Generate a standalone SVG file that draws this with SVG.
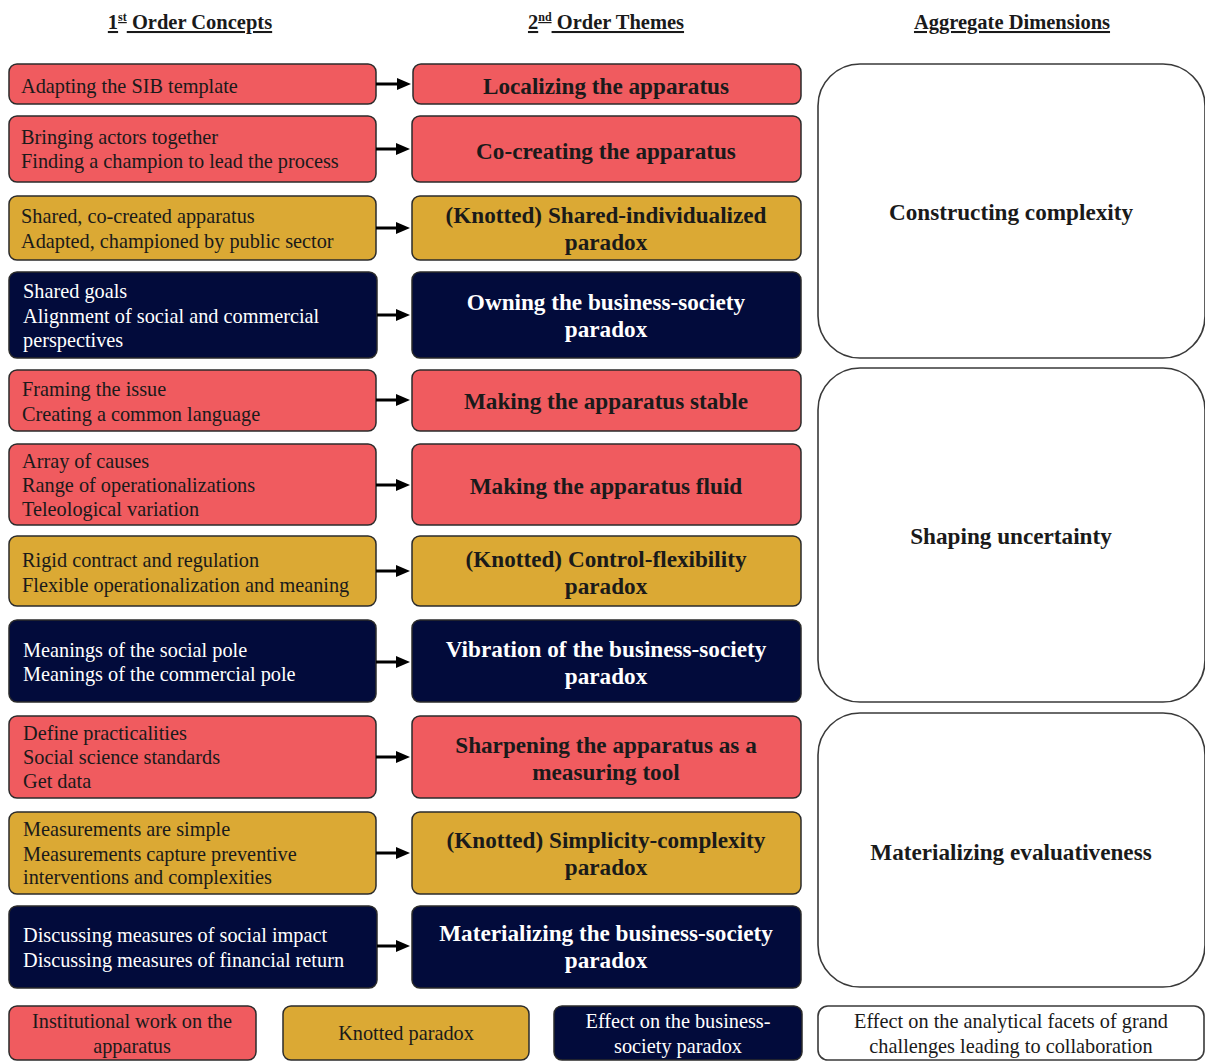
<svg xmlns="http://www.w3.org/2000/svg" width="1205" height="1062" viewBox="0 0 1205 1062">
  <style>
    .box { stroke: #2b2b2b; stroke-width: 1.5; }
    .red { fill: #F05B5F; }
    .gold { fill: #DBA934; }
    .navy { fill: #020B3B; }
    .agg { fill: #ffffff; stroke: #3a3a3a; stroke-width: 1.6; }
    .t { font-family: "Liberation Serif", "Times New Roman", serif; font-size: 20.3px; fill: #1a1a1a; }
    .tw { font-family: "Liberation Serif", "Times New Roman", serif; font-size: 20.3px; fill: #ffffff; }
    .b { font-family: "Liberation Serif", "Times New Roman", serif; font-size: 23.2px; font-weight: bold; fill: #1a1a1a; text-anchor: middle; }
    .bw { font-family: "Liberation Serif", "Times New Roman", serif; font-size: 23.2px; font-weight: bold; fill: #ffffff; text-anchor: middle; }
    .h { font-family: "Liberation Serif", "Times New Roman", serif; font-size: 20.5px; font-weight: bold; fill: #1a1a1a; text-anchor: middle; text-decoration: underline; }
    .lg { font-family: "Liberation Serif", "Times New Roman", serif; font-size: 20.3px; fill: #1a1a1a; text-anchor: middle; }
    .lgw { font-family: "Liberation Serif", "Times New Roman", serif; font-size: 20.3px; fill: #ffffff; text-anchor: middle; }
    .conn { stroke: #000; stroke-width: 3; fill: none; marker-end: url(#arrow); }
  </style>
  <defs>
    <marker id="arrow" markerWidth="14" markerHeight="12" refX="2" refY="6" orient="auto" markerUnits="userSpaceOnUse">
      <path d="M0,0 L14,6 L0,12 Z" fill="#000"/>
    </marker>
  </defs>

  <rect width="1205" height="1062" fill="#ffffff"/>

  <!-- column headings -->
  <g id="headings">
    <text class="h" x="190" y="29">1<tspan font-size="12" dy="-8">st</tspan><tspan dy="8"> Order Concepts</tspan></text>
    <text class="h" x="606" y="29">2<tspan font-size="12" dy="-8">nd</tspan><tspan dy="8"> Order Themes</tspan></text>
    <text class="h" x="1012" y="29">Aggregate Dimensions</text>
  </g>

  <!-- aggregate dimensions -->
  <g id="agg-constructing">
    <rect class="agg" x="818" y="64" width="387" height="294" rx="42"/>
    <text class="b" x="1011" y="220">Constructing complexity</text>
  </g>
  <g id="agg-shaping">
    <rect class="agg" x="818" y="368" width="387" height="334" rx="42"/>
    <text class="b" x="1011" y="544">Shaping uncertainty</text>
  </g>
  <g id="agg-materializing">
    <rect class="agg" x="818" y="713" width="387" height="274" rx="42"/>
    <text class="b" x="1011" y="860">Materializing evaluativeness</text>
  </g>

  <!-- first order concepts -->
  <g id="c1">
    <rect class="box red" x="9" y="64" width="367" height="40" rx="8"/>
    <text class="t" x="21" y="93">Adapting the SIB template</text>
  </g>
  <g id="c2">
    <rect class="box red" x="9" y="116" width="367" height="66" rx="8"/>
    <text class="t" x="21" y="144">Bringing actors together</text>
    <text class="t" x="21" y="168">Finding a champion to lead the process</text>
  </g>
  <g id="c3">
    <rect class="box gold" x="9" y="196" width="367" height="64" rx="8"/>
    <text class="t" x="21" y="223">Shared, co-created apparatus</text>
    <text class="t" x="21" y="248">Adapted, championed by public sector</text>
  </g>
  <g id="c4">
    <rect class="box navy" x="9" y="272" width="368" height="86" rx="8"/>
    <text class="tw" x="23" y="298">Shared goals</text>
    <text class="tw" x="23" y="323">Alignment of social and commercial</text>
    <text class="tw" x="23" y="347">perspectives</text>
  </g>
  <g id="c5">
    <rect class="box red" x="9" y="370" width="367" height="61" rx="8"/>
    <text class="t" x="22" y="396">Framing the issue</text>
    <text class="t" x="22" y="421">Creating a common language</text>
  </g>
  <g id="c6">
    <rect class="box red" x="9" y="444" width="367" height="81" rx="8"/>
    <text class="t" x="22" y="468">Array of causes</text>
    <text class="t" x="22" y="492">Range of operationalizations</text>
    <text class="t" x="22" y="516">Teleological variation</text>
  </g>
  <g id="c7">
    <rect class="box gold" x="9" y="536" width="367" height="70" rx="8"/>
    <text class="t" x="22" y="567">Rigid contract and regulation</text>
    <text class="t" x="22" y="592">Flexible operationalization and meaning</text>
  </g>
  <g id="c8">
    <rect class="box navy" x="9" y="620" width="367" height="82" rx="8"/>
    <text class="tw" x="23" y="657">Meanings of the social pole</text>
    <text class="tw" x="23" y="681">Meanings of the commercial pole</text>
  </g>
  <g id="c9">
    <rect class="box red" x="9" y="716" width="367" height="82" rx="8"/>
    <text class="t" x="23" y="740">Define practicalities</text>
    <text class="t" x="23" y="764">Social science standards</text>
    <text class="t" x="23" y="788">Get data</text>
  </g>
  <g id="c10">
    <rect class="box gold" x="9" y="812" width="367" height="82" rx="8"/>
    <text class="t" x="23" y="836">Measurements are simple</text>
    <text class="t" x="23" y="861">Measurements capture preventive</text>
    <text class="t" x="23" y="884">interventions and complexities</text>
  </g>
  <g id="c11">
    <rect class="box navy" x="9" y="906" width="368" height="82" rx="8"/>
    <text class="tw" x="23" y="942">Discussing measures of social impact</text>
    <text class="tw" x="23" y="967">Discussing measures of financial return</text>
  </g>

  <!-- second order themes -->
  <g id="t1">
    <rect class="box red" x="413" y="64" width="388" height="40" rx="8"/>
    <text class="b" x="606" y="94">Localizing the apparatus</text>
  </g>
  <g id="t2">
    <rect class="box red" x="412" y="116" width="389" height="66" rx="8"/>
    <text class="b" x="606" y="159">Co-creating the apparatus</text>
  </g>
  <g id="t3">
    <rect class="box gold" x="412" y="196" width="389" height="64" rx="8"/>
    <text class="b" x="606" y="223">(Knotted) Shared-individualized</text>
    <text class="b" x="606" y="250">paradox</text>
  </g>
  <g id="t4">
    <rect class="box navy" x="412" y="272" width="389" height="86" rx="8"/>
    <text class="bw" x="606" y="310">Owning the business-society</text>
    <text class="bw" x="606" y="337">paradox</text>
  </g>
  <g id="t5">
    <rect class="box red" x="412" y="370" width="389" height="61" rx="8"/>
    <text class="b" x="606" y="409">Making the apparatus stable</text>
  </g>
  <g id="t6">
    <rect class="box red" x="412" y="444" width="389" height="81" rx="8"/>
    <text class="b" x="606" y="494">Making the apparatus fluid</text>
  </g>
  <g id="t7">
    <rect class="box gold" x="412" y="536" width="389" height="70" rx="8"/>
    <text class="b" x="606" y="567">(Knotted) Control-flexibility</text>
    <text class="b" x="606" y="594">paradox</text>
  </g>
  <g id="t8">
    <rect class="box navy" x="412" y="620" width="389" height="82" rx="8"/>
    <text class="bw" x="606" y="657">Vibration of the business-society</text>
    <text class="bw" x="606" y="684">paradox</text>
  </g>
  <g id="t9">
    <rect class="box red" x="412" y="716" width="389" height="82" rx="8"/>
    <text class="b" x="606" y="753">Sharpening the apparatus as a</text>
    <text class="b" x="606" y="780">measuring tool</text>
  </g>
  <g id="t10">
    <rect class="box gold" x="412" y="812" width="389" height="82" rx="8"/>
    <text class="b" x="606" y="848">(Knotted) Simplicity-complexity</text>
    <text class="b" x="606" y="875">paradox</text>
  </g>
  <g id="t11">
    <rect class="box navy" x="412" y="906" width="389" height="82" rx="8"/>
    <text class="bw" x="606" y="941">Materializing the business-society</text>
    <text class="bw" x="606" y="968">paradox</text>
  </g>

  <!-- connectors -->
  <g id="connectors">
    <line class="conn" x1="376" y1="84" x2="399" y2="84"/>
    <line class="conn" x1="376" y1="149" x2="398" y2="149"/>
    <line class="conn" x1="376" y1="228" x2="398" y2="228"/>
    <line class="conn" x1="377" y1="315" x2="398" y2="315"/>
    <line class="conn" x1="376" y1="400" x2="398" y2="400"/>
    <line class="conn" x1="376" y1="485" x2="398" y2="485"/>
    <line class="conn" x1="376" y1="571" x2="398" y2="571"/>
    <line class="conn" x1="376" y1="662" x2="398" y2="662"/>
    <line class="conn" x1="376" y1="757" x2="398" y2="757"/>
    <line class="conn" x1="376" y1="853" x2="398" y2="853"/>
    <line class="conn" x1="377" y1="946" x2="398" y2="946"/>
  </g>

  <!-- legend -->
  <g id="legend-institutional">
    <rect class="box red" x="9" y="1006" width="247" height="54" rx="8"/>
    <text class="lg" x="132" y="1028">Institutional work on the</text>
    <text class="lg" x="132" y="1053">apparatus</text>
  </g>
  <g id="legend-knotted">
    <rect class="box gold" x="283" y="1006" width="246" height="54" rx="8"/>
    <text class="lg" x="406" y="1040">Knotted paradox</text>
  </g>
  <g id="legend-effect-paradox">
    <rect class="box navy" x="554" y="1006" width="248" height="54" rx="8"/>
    <text class="lgw" x="678" y="1028">Effect on the business-</text>
    <text class="lgw" x="678" y="1053">society paradox</text>
  </g>
  <g id="legend-effect-facets">
    <rect class="agg" x="818" y="1006" width="386" height="54" rx="10"/>
    <text class="lg" x="1011" y="1028">Effect on the analytical facets of grand</text>
    <text class="lg" x="1011" y="1053">challenges leading to collaboration</text>
  </g>
</svg>
